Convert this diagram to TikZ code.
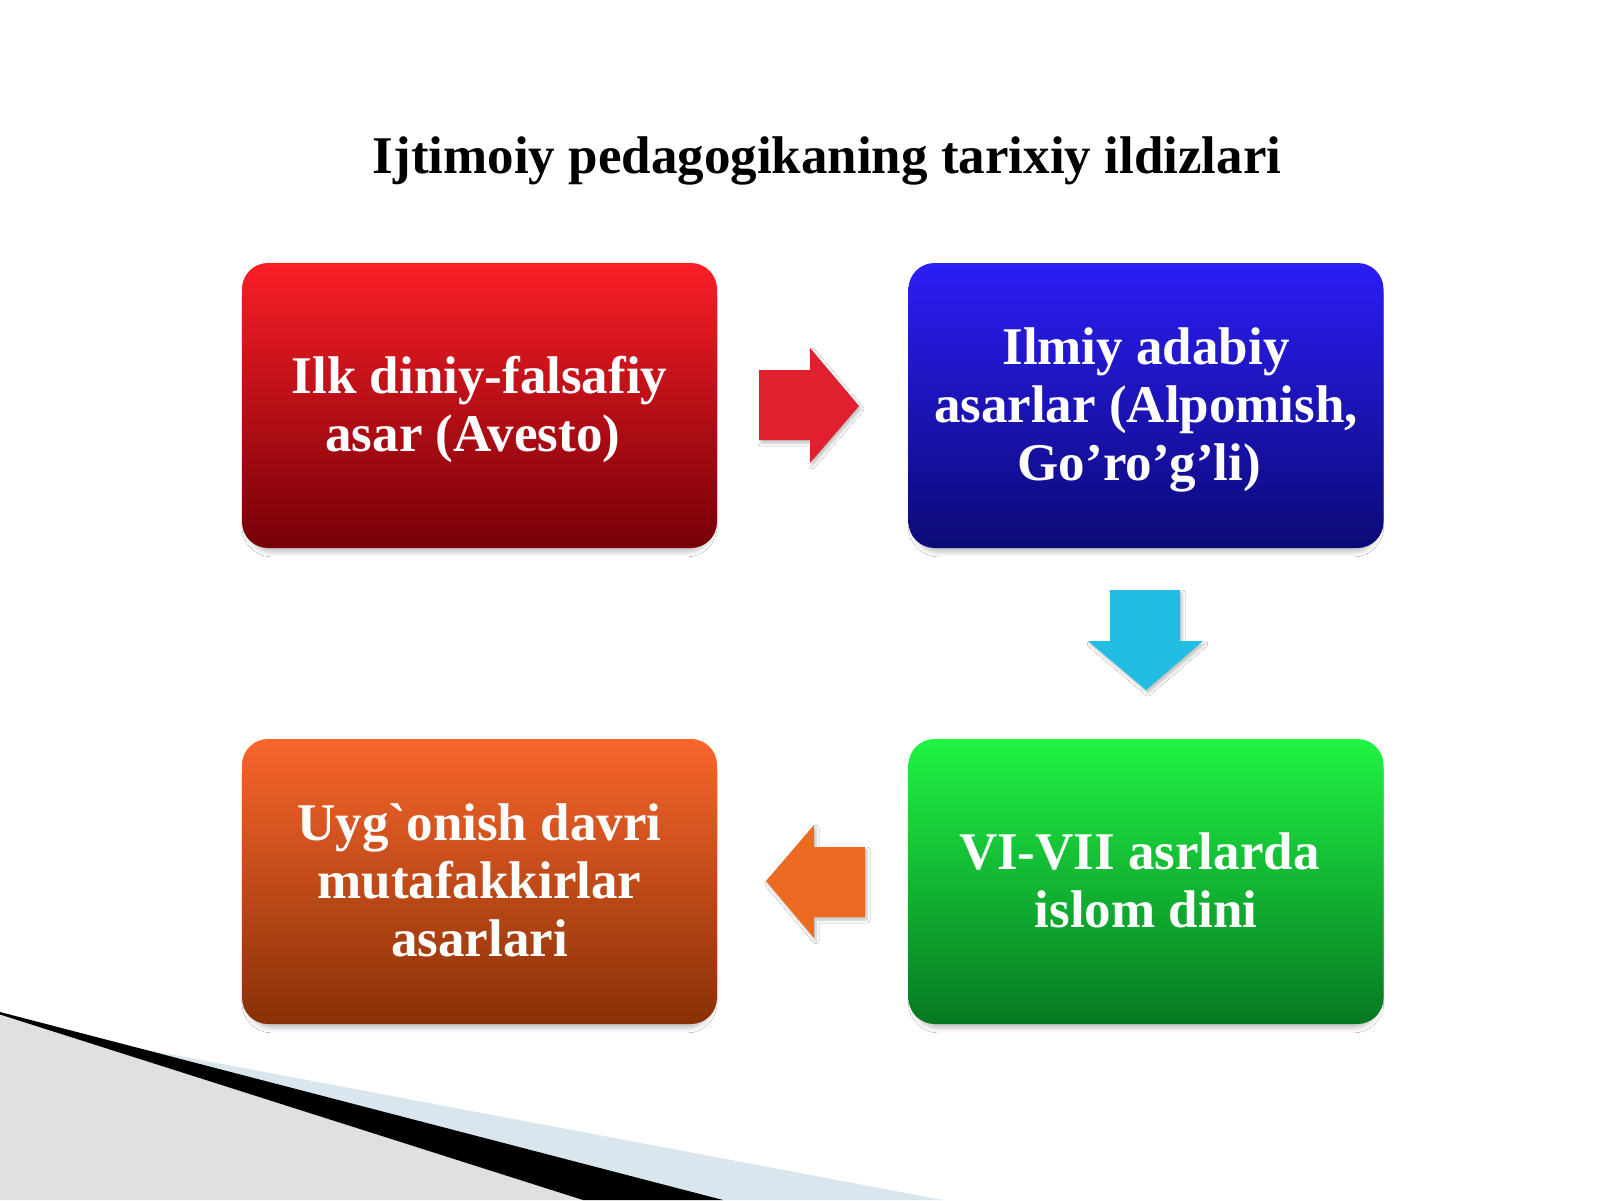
\documentclass[tikz,border=0pt]{standalone}
\usepackage{fontspec}
\setmainfont{Liberation Serif}[Ligatures=TeXOff]
\usetikzlibrary{shadows.blur}
\definecolor{redtop}{HTML}{FA1E26}
\definecolor{redbot}{HTML}{760008}
\definecolor{bluetop}{HTML}{2C1EF6}
\definecolor{bluebot}{HTML}{0B0A76}
\definecolor{orangetop}{HTML}{F9662C}
\definecolor{orangebot}{HTML}{883006}
\definecolor{greentop}{HTML}{20F444}
\definecolor{greenbot}{HTML}{067822}
\definecolor{arrred}{HTML}{E0202E}
\definecolor{arrcyan}{HTML}{22BDE2}
\definecolor{arrorange}{HTML}{EC6A22}
\definecolor{decogray}{HTML}{E0E0E0}
\definecolor{decoblue}{HTML}{D9E6EE}
\newcommand{\myph}{\vphantom{Ilg}}
\newcommand{\trsp}{\hspace*{0.25em}}
\tikzset{
  box/.style={rounded corners=26pt, minimum width=475pt, minimum height=285pt,
    inner sep=0pt, align=center, text=white,
    font=\fontsize{53}{58}\selectfont\bfseries,
    blur shadow={shadow xshift=0pt, shadow yshift=-7pt, shadow blur radius=5pt, shadow scale=0.98, shadow opacity=25}},
  boxtext/.style={inner sep=0pt, align=center, text=white, yshift=-4pt,
    font=\fontsize{53}{58}\selectfont\bfseries},
  blockarrow/.style={draw=none,
    blur shadow={shadow xshift=2pt, shadow yshift=-3pt, shadow blur radius=3pt, shadow opacity=25}}
}
\begin{document}
\begin{tikzpicture}[x=1pt,y=-1pt]
\useasboundingbox (0,0) rectangle (1600,1200);
\fill[white] (0,0) rectangle (1600,1200);
% decoration bottom-left
\fill[decoblue] (129,1046.4) -- (943,1200) -- (723,1200) -- cycle;
\fill[decogray] (0,1014.5) -- (583,1200) -- (0,1200) -- cycle;
\fill[black] (0,1012) -- (723,1200) -- (583,1200) -- (0,1014.5) -- cycle;
% title
\node[anchor=base, font=\fontsize{53}{58}\selectfont\bfseries] (title) at (827,173) {Ijtimoiy pedagogikaning tarixiy ildizlari};
% boxes
\node[box, top color=redtop, bottom color=redbot] (avesto) at (479.5,405.5) {};
\node[box, top color=bluetop, bottom color=bluebot] (ilmiy) at (1146,405.5) {};
\node[box, top color=greentop, bottom color=greenbot] (islom) at (1146,881.5) {};
\node[box, top color=orangetop, bottom color=orangebot] (uygonish) at (479.5,881.5) {};
% box texts
\node[boxtext] (avestotext) at (avesto.center) {\myph Ilk diniy-falsafiy\\asar (Avesto)\trsp\myph};
\node[boxtext] (ilmiytext) at (ilmiy.center) {\myph Ilmiy adabiy\\asarlar (Alpomish,\\Go’ro’g’li)\trsp\myph};
\node[boxtext] (islomtext) at (islom.center) {\myph VI-VII asrlarda\trsp\\islom dini\myph};
\node[boxtext] (uygonishtext) at (uygonish.center) {\myph Uyg`onish davri\\mutafakkirlar\\asarlari\myph};
% block arrows
\fill[arrred, blockarrow] (759,370) -- (810,370) -- (810,348) -- (859,406) -- (810,463) -- (810,440) -- (759,440) -- cycle;
\fill[arrcyan, blockarrow] (1110,590) -- (1180,590) -- (1180,641) -- (1203,641) -- (1146,690) -- (1088,641) -- (1110,641) -- cycle;
\fill[arrorange, blockarrow] (865,847) -- (814,847) -- (814,825) -- (766,881) -- (814,938) -- (814,917) -- (865,917) -- cycle;
\end{tikzpicture}
\end{document}
